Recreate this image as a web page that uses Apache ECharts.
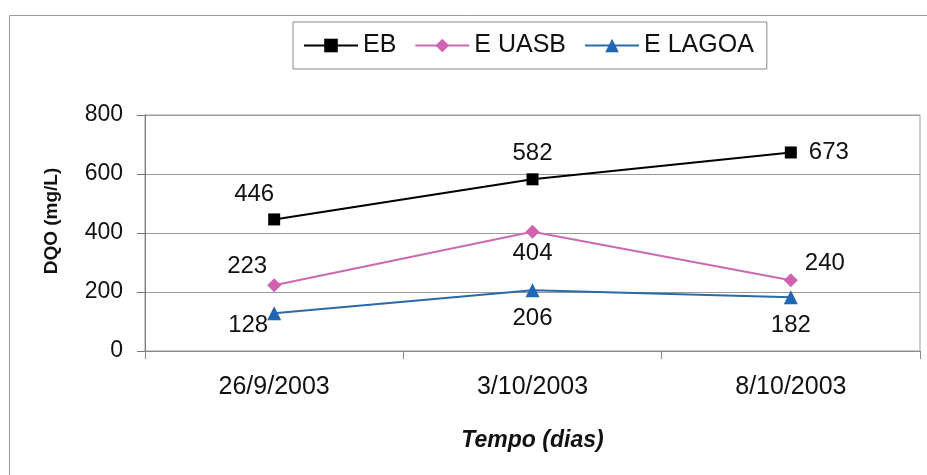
<!DOCTYPE html>
<html>
<head>
<meta charset="utf-8">
<script src="https://cdn.jsdelivr.net/npm/echarts@6/dist/echarts.min.js"></script>
<style>
  html, body { margin: 0; padding: 0; background: #fff; }
  #chart { width: 927px; height: 475px; }
</style>
</head>
<body>
<div id="chart"></div>
<script>
// Sampling dates (category axis)
const dates = ['26/9/2003', '3/10/2003', '8/10/2003'];

// DQO (mg/L) per sampling point
const ebValues = [446, 582, 673];
const uasbValues = [223, 404, 240];
const lagoaValues = [128, 206, 182];

// Value axis ticks
const yTicks = [0, 200, 400, 600, 800];

const FONT = '"Liberation Sans", Arial, sans-serif';

// Where each value label sits relative to its marker
const ebLabelOffsets = [[-20, -25], [0, -26], [38, 0]];
const uasbLabelOffsets = [[-27, -19], [0, 22], [34, -17]];
const lagoaLabelOffsets = [[-26, 12], [0, 28], [0, 28]];

function withLabels(values, offsets) {
  return values.map((v, i) => ({
    value: v,
    label: { position: 'inside', offset: offsets[i] }
  }));
}

const labelStyle = {
  show: true,
  color: '#111',
  fontFamily: FONT,
  fontSize: 24
};

const chart = echarts.init(document.getElementById('chart'), null, { renderer: 'canvas' });

chart.setOption({
  animation: false,
  backgroundColor: '#fff',
  textStyle: { fontFamily: FONT },
  graphic: [
    {
      type: 'rect',
      shape: { x: 9.5, y: 15.5, width: 940, height: 500 },
      style: { fill: 'none', stroke: '#9a9a9a', lineWidth: 1 },
      silent: true,
      z: -1
    },
    {
      type: 'text',
      x: 52,
      y: 221,
      rotation: Math.PI / 2,
      style: {
        text: 'DQO (mg/L)',
        font: 'bold 19px ' + FONT,
        fill: '#111',
        align: 'center',
        verticalAlign: 'middle'
      }
    }
  ],
  legend: {
    left: 293,
    top: 22,
    padding: [11, 13, 11, 10],
    borderColor: '#8a8a8a',
    borderWidth: 1,
    itemWidth: 54,
    itemHeight: 17,
    itemGap: 18,
    textStyle: { fontFamily: FONT, fontSize: 25, color: '#111' },
    data: ['EB', 'E UASB', 'E LAGOA']
  },
  grid: {
    left: 145,
    right: 7,
    top: 115,
    bottom: 124,
    show: true,
    borderColor: '#9a9a9a',
    borderWidth: 1,
    backgroundColor: 'transparent'
  },
  xAxis: {
    type: 'category',
    data: dates,
    boundaryGap: true,
    name: 'Tempo (dias)',
    nameLocation: 'middle',
    nameGap: 78,
    nameTextStyle: {
      fontFamily: FONT,
      fontSize: 23,
      fontWeight: 'bold',
      fontStyle: 'italic',
      color: '#111'
    },
    axisLine: { lineStyle: { color: '#8a8a8a', width: 1 } },
    axisTick: { show: true, length: 8, interval: 0, lineStyle: { color: '#8a8a8a' } },
    axisLabel: { margin: 24, fontFamily: FONT, fontSize: 25, color: '#111' },
    splitLine: { show: false }
  },
  yAxis: {
    type: 'value',
    min: yTicks[0],
    max: yTicks[yTicks.length - 1],
    interval: yTicks[1] - yTicks[0],
    axisLine: { show: true, lineStyle: { color: '#7a7a7a', width: 1 } },
    axisTick: { show: true, length: 8, lineStyle: { color: '#7a7a7a' } },
    axisLabel: { margin: 22, fontFamily: FONT, fontSize: 23, color: '#111' },
    splitLine: { show: true, lineStyle: { color: '#9a9a9a', width: 1 } }
  },
  series: [
    {
      name: 'EB',
      type: 'line',
      data: withLabels(ebValues, ebLabelOffsets),
      symbol: 'rect',
      symbolSize: 12,
      color: '#000',
      lineStyle: { color: '#000', width: 2 },
      itemStyle: { color: '#000' },
      label: labelStyle
    },
    {
      name: 'E UASB',
      type: 'line',
      data: withLabels(uasbValues, uasbLabelOffsets),
      symbol: 'diamond',
      symbolSize: 14,
      color: '#d062b0',
      lineStyle: { color: '#cc6ab0', width: 2 },
      itemStyle: { color: '#d062b0' },
      label: labelStyle
    },
    {
      name: 'E LAGOA',
      type: 'line',
      data: withLabels(lagoaValues, lagoaLabelOffsets),
      symbol: 'triangle',
      symbolSize: 14,
      color: '#1f66b5',
      lineStyle: { color: '#2a6aa8', width: 2 },
      itemStyle: { color: '#1f66b5' },
      label: labelStyle
    }
  ]
});
</script>
</body>
</html>
